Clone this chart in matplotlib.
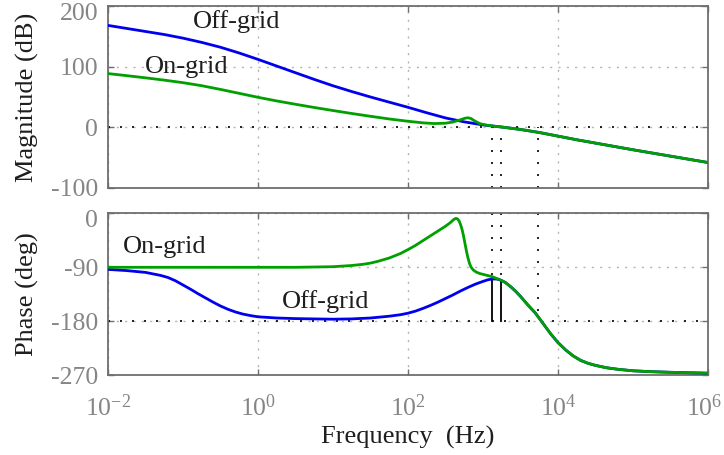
import numpy as np
import matplotlib
matplotlib.use("Agg")
import matplotlib.pyplot as plt
from matplotlib.ticker import FixedLocator, FixedFormatter, NullLocator
from matplotlib.transforms import ScaledTranslation

plt.rcParams.update({
    "font.family": "Liberation Serif",
    "mathtext.fontset": "custom",
    "mathtext.rm": "Liberation Serif",
    "mathtext.it": "Liberation Serif:italic",
    "mathtext.bf": "Liberation Serif:bold",
    "axes.unicode_minus": False,
})

# ---- magnitude (dB) vs log10(frequency / Hz) ----
mag_logf_off = [-2, -1.75, -1.5, -1.25, -1, -0.75, -0.5, -0.25, 0, 0.25, 0.5, 0.75,
                1, 1.25, 1.5, 1.75, 2, 2.25, 2.5, 2.75, 3, 3.25, 3.5, 3.75, 4,
                4.25, 4.5, 4.75, 5, 5.5, 6]
mag_off = [168, 163, 158, 153, 147, 140, 132, 122.5, 112, 101, 90, 79,
           68.5, 59, 50, 41.5, 33, 24, 15.5, 9, 4, 0.5, -3.5, -8.5, -14.5,
           -20.5, -26, -31.5, -37, -47.5, -58]

mag_logf_on = [-2, -1.75, -1.5, -1.25, -1, -0.75, -0.5, -0.25, 0, 0.25, 0.5, 0.75,
               1, 1.25, 1.5, 1.75, 2, 2.2, 2.35, 2.5, 2.6, 2.7, 2.76, 2.8, 2.84,
               2.89, 2.96, 3.05, 3.15, 3.25, 3.5, 3.75, 4, 4.25, 4.5, 4.75, 5, 5.5, 6]
mag_on = [88.6, 85.2, 81.6, 77.8, 73.6, 68.6, 62.5, 56, 49.5, 43.5, 38, 32.7,
          27.7, 22.8, 18.2, 13.8, 10, 7.4, 6.2, 6.8, 8.8, 12.5, 15, 15.8, 14.5,
          10.5, 6, 3.5, 1.8, 0.5, -3.5, -8.5, -14.5, -20.5, -26, -31.5, -37, -47.5, -58]

# ---- phase (deg) vs log10(frequency / Hz) ----
ph_logf_off = [-2, -1.75, -1.5, -1.4, -1.3, -1.2, -1.1, -1.0, -0.9, -0.8, -0.7, -0.6,
               -0.5, -0.4, -0.3, -0.2, -0.1, 0, 0.25, 0.5, 1, 1.25, 1.5, 1.75, 1.9,
               2.0, 2.1, 2.2, 2.3, 2.4, 2.5, 2.6, 2.7, 2.8, 2.9, 3.0, 3.06, 3.12,
               3.18, 3.24, 3.3, 3.38, 3.44, 3.5, 3.6, 3.7, 3.8, 3.9, 4.0, 4.1, 4.2,
               4.3, 4.4, 4.5, 4.65, 4.8, 5.0, 5.25, 5.5, 6]
ph_off = [-94, -96, -99, -101.5, -104, -107.5, -113, -120, -127, -134.5, -141.5, -148.5,
          -155, -160.5, -165, -168.5, -171, -173, -175, -176, -177, -176.5, -175, -172, -169.5,
          -167, -163.5, -159, -154, -148.5, -142.5, -136.5, -130, -124, -118.5, -114, -111.5, -110,
          -110, -112, -116, -124, -131, -139, -153.5, -167, -184, -201, -216, -228, -238,
          -245.5, -250.5, -254, -258, -260.5, -263, -264.5, -265.5, -267]

ph_logf_on = [-2, -1, 0, 0.5, 1, 1.25, 1.4, 1.5, 1.6, 1.75, 1.9, 2.0, 2.1, 2.2, 2.3, 2.4, 2.5,
              2.56, 2.6, 2.62, 2.64, 2.66, 2.68, 2.70, 2.72, 2.74, 2.76, 2.78, 2.80,
              2.82, 2.84, 2.87, 2.91, 2.96, 3.04, 3.12, 3.2, 3.27, 3.3, 3.38, 3.44, 3.5,
              3.6, 3.7, 3.8, 3.9, 4.0, 4.1, 4.2, 4.3, 4.4, 4.5, 4.65, 4.8, 5.0,
              5.25, 5.5, 6]
ph_on = [-90.5, -90.5, -90.5, -90.5, -89.5, -87.5, -85.5, -83.5, -80.5, -75, -67.5, -61, -54, -46,
         -38, -30, -22,
         -16.5, -12, -10, -9, -9.8, -13, -19, -27, -38, -51, -64, -75,
         -84, -90, -95, -98.5, -101, -103.5, -106, -110, -114, -116, -124, -131, -139,
         -153.5, -167, -184, -201, -216, -228, -238, -245.5, -250.5, -254, -258, -260.5, -263,
         -264.5, -265.5, -267]

# crossover markers
gain_cross_hz = [1306, 1722]          # 0 dB crossings
gain_cross_phase = [-110, -112]       # phase at those crossings
phase_cross_hz = [5360]               # -180 deg crossing

# axis ticks
x_ticks = [1e-2, 1e0, 1e2, 1e4, 1e6]
x_tick_labels = [r"$10^{-2}$", r"$10^{0}$", r"$10^{2}$", r"$10^{4}$", r"$10^{6}$"]
mag_ticks = [-100, 0, 100, 200]
mag_tick_labels = ["-100", "0", "100", "200"]
ph_ticks = [-270, -180, -90, 0]
ph_tick_labels = ["-270", "-180", "-90", "0"]

BLUE = "#0000ee"
GREEN = "#00a000"
FRAME = "#6e6e6e"
TICKTXT = "#858585"
TXT = "#1e1e1e"
FS_TICK = 18.5
FS = 19

W, H = 724, 455
fig = plt.figure(figsize=(W / 100, H / 100), dpi=100)
ax1 = fig.add_axes([108 / W, 1 - 188 / H, 600 / W, 182 / H])
ax2 = fig.add_axes([108 / W, 1 - 375 / H, 600 / W, 162 / H])


def style(ax, yticks, ylabels, show_x):
    ax.set_xscale("log")
    ax.set_xlim(1e-2, 1e6)
    ax.xaxis.set_major_locator(FixedLocator(x_ticks))
    ax.xaxis.set_minor_locator(NullLocator())
    if show_x:
        ax.xaxis.set_major_formatter(FixedFormatter(x_tick_labels))
    else:
        ax.xaxis.set_major_formatter(FixedFormatter([""] * len(x_ticks)))
    ax.yaxis.set_major_locator(FixedLocator(yticks))
    ax.yaxis.set_major_formatter(FixedFormatter(ylabels))
    for s in ax.spines.values():
        s.set_color(FRAME)
        s.set_linewidth(1.3)
    ax.tick_params(axis="both", which="major", direction="in", length=4,
                   width=1.0, color=FRAME, labelcolor=TICKTXT, labelsize=FS_TICK,
                   top=True, right=True)
    ax.tick_params(axis="x", pad=14)
    ax.tick_params(axis="y", pad=7)
    ax.grid(True, which="major", color="#b4b4b4", linewidth=1.0,
            linestyle=(0, (1.5, 4.5)))
    ax.set_axisbelow(True)


style(ax1, mag_ticks, mag_tick_labels, False)
style(ax2, ph_ticks, ph_tick_labels, True)
ax1.set_ylim(-100, 200)
ax2.set_ylim(-270, 0)


def nudge(label, dx_px, dy_px):
    label.set_transform(label.get_transform()
                        + ScaledTranslation(dx_px / 100, dy_px / 100, fig.dpi_scale_trans))


# keep the topmost y tick label of each panel inside the frame height
for ax in (ax1, ax2):
    nudge(ax.yaxis.get_major_ticks()[-1].label1, 0, -6)
# keep the rightmost frequency label inside the figure
nudge(ax2.xaxis.get_major_ticks()[-1].label1, -4, 0)

ref_style = dict(color="black", linewidth=1.2, linestyle=(0, (1.2, 6)), zorder=1.5)

# magnitude panel
ax1.axhline(0, **ref_style)
for f in gain_cross_hz + phase_cross_hz:
    ax1.plot([f, f], [-100, 0], **ref_style)
ax1.plot(10 ** np.array(mag_logf_off), mag_off, color=BLUE, lw=2.0, zorder=3)
ax1.plot(10 ** np.array(mag_logf_on), mag_on, color=GREEN, lw=2.0, zorder=4)

# phase panel
ax2.axhline(-180, **ref_style)
for f, p in zip(gain_cross_hz, gain_cross_phase):
    ax2.plot([f, f], [0, p], **ref_style)
    ax2.plot([f, f], [-180, p], color="black", lw=1.3, zorder=2)
for f in phase_cross_hz:
    ax2.plot([f, f], [0, -180], **ref_style)
ax2.plot(10 ** np.array(ph_logf_off), ph_off, color=BLUE, lw=2.0, zorder=3)
ax2.plot(10 ** np.array(ph_logf_on), ph_on, color=GREEN, lw=2.0, zorder=4)

# series labels
ax1.text(10 ** -0.867, 163, "Off-grid", fontsize=FS, color=TXT, ha="left", va="baseline")
ax1.text(10 ** -1.507, 89.7, "On-grid", fontsize=FS, color=TXT, ha="left", va="baseline")
ax2.text(10 ** -1.804, -67.2, "On-grid", fontsize=FS, color=TXT, ha="left", va="baseline")
ax2.text(10 ** 0.316, -158.8, "Off-grid", fontsize=FS, color=TXT, ha="left", va="baseline")

# axis titles
fig.text(27 / W, 1 - 97 / H, "Magnitude (dB)", rotation=90, fontsize=FS,
         color=TXT, ha="center", va="center")
fig.text(27 / W, 1 - 294 / H, "Phase (deg)", rotation=90, fontsize=FS,
         color=TXT, ha="center", va="center")
fig.text(408 / W, 1 - 437 / H, "Frequency  (Hz)", fontsize=FS, color=TXT,
         ha="center", va="center")

fig.savefig("out.png", dpi=100)
